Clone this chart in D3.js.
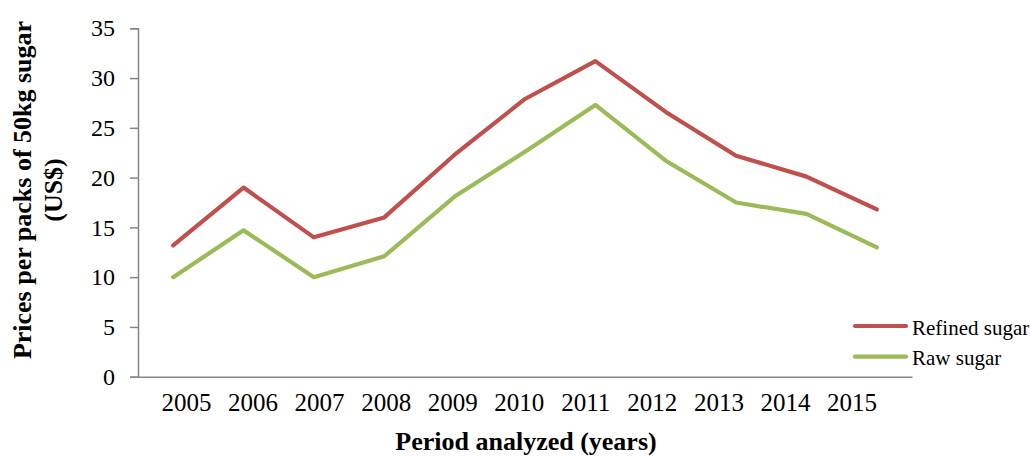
<!DOCTYPE html>
<html>
<head>
<meta charset="utf-8">
<script src="https://cdn.jsdelivr.net/npm/d3@7"></script>
<style>
  html, body { margin: 0; padding: 0; background: #fff; }
  svg { display: block; }
  text { font-family: "Liberation Serif", "Times New Roman", serif; fill: #000; }
</style>
</head>
<body>
<svg id="chart" width="1030" height="457"></svg>
<script>
const years = ["2005","2006","2007","2008","2009","2010","2011","2012","2013","2014","2015"];
const refinedSugar = [13.2, 19.0, 14.0, 16.0, 22.3, 27.9, 31.7, 26.6, 22.2, 20.1, 16.8];
const rawSugar = [10.0, 14.7, 10.0, 12.1, 18.1, 22.6, 27.3, 21.7, 17.5, 16.35, 13.0];
const yTicks = [0, 5, 10, 15, 20, 25, 30, 35];
const seriesNames = ["Refined sugar", "Raw sugar"];
const seriesColors = ["#C0504D", "#9BBB59"];

const svg = d3.select("#chart");
const mLeft = 138, mRight = 912, mTop = 28.3, mBottom = 376.7;

const x = d3.scaleBand().domain(years).range([mLeft, mRight]).padding(0);
// tick labels in the reference sit on a slightly tighter spacing than the data points
const xLabel = d3.scalePoint().domain(years).range([186, 851.5]);
const y = d3.scaleLinear().domain([0, 35]).range([mBottom, mTop]);

const axisColor = "#868686";

// Y axis
const yAxis = svg.append("g").attr("transform", `translate(${mLeft},0)`)
  .call(d3.axisLeft(y).tickValues(yTicks).tickSize(8).tickPadding(15).tickFormat(d3.format("d")));
yAxis.select(".domain").attr("stroke", axisColor).attr("stroke-width", 1.5);
yAxis.selectAll(".tick line").attr("stroke", axisColor).attr("stroke-width", 1.5);
yAxis.selectAll(".tick text").style("font-size", "24px").attr("font-family", "Liberation Serif");

// X axis line
const xAxis = svg.append("g").attr("transform", `translate(0,${mBottom})`)
  .call(d3.axisBottom(x).tickSize(0).tickFormat(""));
xAxis.select(".domain").attr("stroke", axisColor).attr("stroke-width", 1.5);
xAxis.selectAll(".tick").remove();

// X tick labels
const xLab = svg.append("g").attr("transform", `translate(0,${mBottom})`)
  .call(d3.axisBottom(xLabel).tickSize(0).tickPadding(17));
xLab.select(".domain").remove();
xLab.selectAll(".tick text").style("font-size", "25px").attr("font-family", "Liberation Serif");

// Lines
const line = d3.line().x((d, i) => x(years[i]) + x.bandwidth() / 2).y(d => y(d));
[refinedSugar, rawSugar].forEach((s, k) => {
  svg.append("path").datum(s)
    .attr("d", line)
    .attr("fill", "none")
    .attr("stroke", seriesColors[k])
    .attr("stroke-width", 4.2)
    .attr("stroke-linejoin", "round")
    .attr("stroke-linecap", "round");
});

// Legend
const legendY = [326, 356.7];
seriesNames.forEach((n, k) => {
  svg.append("line")
    .attr("x1", 855).attr("x2", 906)
    .attr("y1", legendY[k]).attr("y2", legendY[k])
    .attr("stroke", seriesColors[k]).attr("stroke-width", 4.2)
    .attr("stroke-linecap", "round");
  svg.append("text")
    .attr("x", 912).attr("y", legendY[k] + 8.5)
    .style("font-size", "21px")
    .text(n);
});

// Axis titles
svg.append("text")
  .attr("x", 526).attr("y", 450)
  .attr("text-anchor", "middle")
  .style("font-size", "26px").style("font-weight", "bold")
  .text("Period analyzed (years)");

const yTitle = svg.append("text")
  .attr("transform", "translate(0,190) rotate(-90)")
  .attr("text-anchor", "middle")
  .style("font-size", "26px").style("font-weight", "bold");
yTitle.append("tspan").attr("x", 0).attr("y", 31).text("Prices per packs of 50kg sugar");
yTitle.append("tspan").attr("x", 0).attr("y", 62).text("(US$)");
</script>
</body>
</html>
